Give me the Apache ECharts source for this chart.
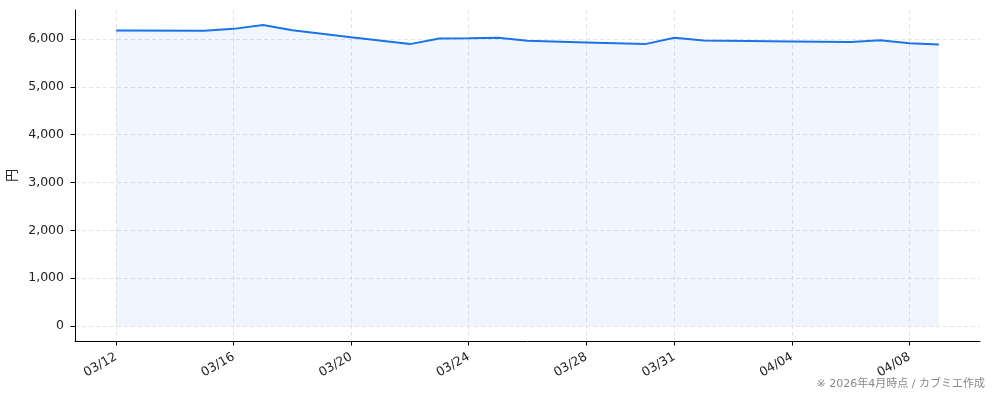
<!DOCTYPE html>
<html>
<head>
<meta charset="utf-8">
<script src="https://cdn.jsdelivr.net/npm/echarts@6/dist/echarts.min.js"></script>
<style>
html,body{margin:0;padding:0;background:#fff;}
#chart{width:994px;height:401px;}
</style>
</head>
<body>
<div id="chart"></div>
<script>
const dates = ['2026-03-12','2026-03-15','2026-03-16','2026-03-17','2026-03-18','2026-03-20','2026-03-22','2026-03-23','2026-03-24','2026-03-25','2026-03-26','2026-03-28','2026-03-30','2026-03-31','2026-04-01','2026-04-04','2026-04-06','2026-04-07','2026-04-08','2026-04-09'];
const prices = [6180,6175,6215,6295,6185,6040,5896,6015,6021,6028,5965,5930,5896,6028,5972,5952,5940,5979,5916,5889];
const xTickDates = ['2026-03-12','2026-03-16','2026-03-20','2026-03-24','2026-03-28','2026-03-31','2026-04-04','2026-04-08'];
const yTicks = [0,1000,2000,3000,4000,5000,6000];
const yLabel = '円';
const footnote = '※ 2026年4月時点 / カブミエ作成';

const toTs = s => { const p = s.split('-').map(Number); return Date.UTC(p[0], p[1]-1, p[2]); };
const xs = dates.map(toTs);
const xTicks = xTickDates.map(toTs);
const xMin = xs[0], xMax = xs[xs.length-1];
const xPad = (xMax - xMin) * 0.05;
const yMaxData = Math.max(...prices);
const yPad = yMaxData * 0.05;
const fmtDate = v => { const d = new Date(v); return String(d.getUTCMonth()+1).padStart(2,'0') + '/' + String(d.getUTCDate()).padStart(2,'0'); };

const font = '"DejaVu Sans", "Noto Sans CJK JP", sans-serif';
const chart = echarts.init(document.getElementById('chart'), null, {renderer:'canvas'});
chart.setOption({
  animation: false,
  textStyle: {fontFamily: font},
  grid: {left: 75, right: 14, top: 10, bottom: 60, containLabel: false, outerBoundsMode: 'none'},
  xAxis: {
    type: 'value',
    min: xMin - xPad,
    max: xMax + xPad,
    axisLine: {show: true, onZero: false, lineStyle: {color: '#000', width: 1}},
    axisTick: {show: true, length: 4.5, lineStyle: {color: '#000'}, customValues: xTicks},
    axisLabel: {
      customValues: xTicks,
      rotate: 30,
      margin: 15,
      color: '#222',
      fontSize: 12.5,
      fontFamily: font,
      formatter: fmtDate
    },
    splitLine: {show: true, lineStyle: {color: '#e3e3e8', type: [4,3], width: 1}}
  },
  yAxis: {
    type: 'value',
    min: -yPad,
    max: yMaxData + yPad,
    name: yLabel,
    nameLocation: 'middle',
    nameGap: 52,
    nameTextStyle: {color: '#222', fontSize: 13, fontFamily: '"Noto Sans CJK JP", sans-serif'},
    axisLine: {show: true, onZero: false, lineStyle: {color: '#000', width: 1}},
    axisTick: {show: true, length: 4.5, lineStyle: {color: '#000'}, customValues: yTicks},
    axisLabel: {
      customValues: yTicks,
      margin: 11,
      color: '#222',
      fontSize: 12.5,
      fontFamily: font,
      formatter: v => v.toLocaleString('en-US')
    },
    splitLine: {show: true, lineStyle: {color: '#e3e3e8', type: [4,3], width: 1}}
  },
  series: [{
    type: 'line',
    data: xs.map((t,i) => [t, prices[i]]),
    showSymbol: false,
    symbol: 'none',
    lineStyle: {color: '#1a73e8', width: 2},
    areaStyle: {color: 'rgba(26,115,232,0.09)', origin: 0},
    z: 3
  }],
  graphic: [{
    type: 'text',
    right: 9,
    top: 379,
    style: {text: footnote, fill: '#888', fontSize: 11, fontFamily: font}
  }]
});
</script>
</body>
</html>
